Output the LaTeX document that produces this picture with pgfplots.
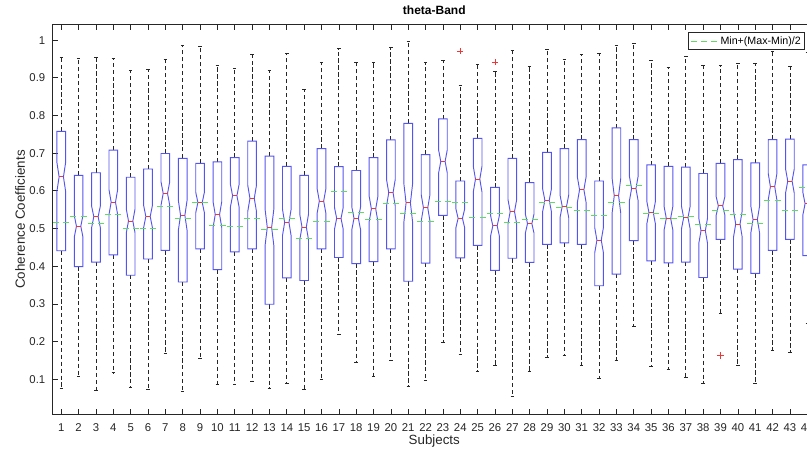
\documentclass[border=0pt]{standalone}
\usepackage{pgfplots}
\pgfplotsset{compat=1.18}
\usepackage{pgfplotstable}
\usepackage{fontspec}
\setmainfont{Liberation Sans}
\definecolor{boxblue}{rgb}{0.33,0.33,0.95}
\definecolor{medred}{rgb}{0.92,0.22,0.22}
\definecolor{midgreen}{rgb}{0.38,0.86,0.38}
\definecolor{axgray}{rgb}{0.15,0.15,0.15}

% x lw q1 med q3 uw mid  (mid = Min+(Max-Min)/2, incl. outliers)
\pgfplotstableread{
x  lw    q1    med   q3    uw    mid
1  0.075 0.441 0.637 0.758 0.953 0.515
2  0.108 0.399 0.506 0.641 0.951 0.531
3  0.070 0.411 0.531 0.648 0.955 0.514
4  0.117 0.430 0.570 0.708 0.952 0.536
5  0.078 0.376 0.520 0.636 0.919 0.499
6  0.074 0.419 0.532 0.658 0.922 0.499
7  0.168 0.442 0.593 0.699 0.949 0.559
8  0.068 0.358 0.535 0.686 0.986 0.526
9  0.155 0.446 0.569 0.673 0.982 0.569
10 0.086 0.391 0.537 0.677 0.934 0.509
11 0.086 0.438 0.587 0.688 0.925 0.505
12 0.093 0.446 0.580 0.732 0.963 0.526
13 0.075 0.299 0.503 0.692 0.919 0.497
14 0.088 0.369 0.516 0.665 0.966 0.527
15 0.073 0.362 0.504 0.641 0.870 0.473
16 0.100 0.446 0.573 0.712 0.941 0.519
17 0.218 0.423 0.527 0.664 0.977 0.597
18 0.145 0.407 0.527 0.654 0.940 0.542
19 0.107 0.412 0.552 0.688 0.942 0.524
20 0.149 0.446 0.595 0.735 0.981 0.566
21 0.082 0.360 0.568 0.779 0.996 0.540
22 0.096 0.408 0.555 0.696 0.942 0.519
23 0.199 0.535 0.678 0.791 0.947 0.573
24 0.166 0.422 0.527 0.626 0.880 0.569
25 0.121 0.455 0.631 0.739 0.935 0.528
26 0.136 0.389 0.507 0.609 0.916 0.539
27 0.055 0.421 0.545 0.686 0.973 0.515
28 0.121 0.410 0.513 0.622 0.929 0.525
29 0.159 0.458 0.575 0.702 0.976 0.568
30 0.164 0.462 0.559 0.712 0.949 0.556
31 0.136 0.458 0.603 0.736 0.963 0.549
32 0.101 0.348 0.469 0.626 0.965 0.534
33 0.149 0.379 0.587 0.767 0.987 0.568
34 0.239 0.468 0.606 0.736 0.991 0.615
35 0.133 0.414 0.542 0.669 0.947 0.541
36 0.126 0.409 0.527 0.665 0.927 0.527
37 0.104 0.411 0.529 0.663 0.958 0.531
38 0.088 0.370 0.494 0.646 0.934 0.511
39 0.276 0.471 0.560 0.673 0.932 0.547
40 0.136 0.392 0.512 0.683 0.938 0.537
41 0.088 0.381 0.524 0.674 0.937 0.512
42 0.177 0.442 0.611 0.736 0.971 0.574
43 0.170 0.471 0.626 0.737 0.929 0.549
44 0.248 0.428 0.566 0.669 0.968 0.608
}\boxdata

\pgfplotsset{
  boxline/.style={boxblue, line width=0.7pt, line join=miter},
  whisk/.style={black!85, line width=0.6pt, dash pattern=on 3.2pt off 2pt},
  capline/.style={black!85, line width=0.6pt},
  medline/.style={medred, line width=0.7pt},
  midline/.style={midgreen, line width=0.75pt, dash pattern=on 4.5pt off 3.2pt},
}

% #1 x, #2 lw, #3 q1, #4 med, #5 q3, #6 uw, #7 mid
\newcommand\nbox[7]{%
  \pgfmathsetmacro\bxL{#1-0.25}%
  \pgfmathsetmacro\bxR{#1+0.25}%
  \pgfmathsetmacro\bxIL{#1-0.125}%
  \pgfmathsetmacro\bxIR{#1+0.125}%
  \pgfmathsetmacro\bxNT{#4+0.12*(#5-#3)}%
  \pgfmathsetmacro\bxNB{#4-0.12*(#5-#3)}%
  \pgfmathsetmacro\bxCL{#1-0.1}%
  \pgfmathsetmacro\bxCR{#1+0.1}%
  \pgfmathsetmacro\bxGL{#1-0.47}%
  \pgfmathsetmacro\bxGR{#1+0.47}%
  \edef\bxtemp{%
    \noexpand\addplot[whisk,forget plot] coordinates {(#1,#5) (#1,#6)};
    \noexpand\addplot[whisk,forget plot] coordinates {(#1,#3) (#1,#2)};
    \noexpand\addplot[capline,forget plot] coordinates {(\bxCL,#6) (\bxCR,#6)};
    \noexpand\addplot[capline,forget plot] coordinates {(\bxCL,#2) (\bxCR,#2)};
    \noexpand\addplot[boxline,forget plot] coordinates {(\bxL,#3) (\bxR,#3) (\bxR,\bxNB) (\bxIR,#4) (\bxR,\bxNT) (\bxR,#5) (\bxL,#5) (\bxL,\bxNT) (\bxIL,#4) (\bxL,\bxNB) (\bxL,#3) (\bxR,#3)};
    \noexpand\addplot[medline,forget plot] coordinates {(\bxIL,#4) (\bxIR,#4)};
    \noexpand\addplot[midline,forget plot] coordinates {(\bxGL,#7) (\bxGR,#7)};
  }%
  \bxtemp
}

\begin{document}
\begin{tikzpicture}[trim right=565.8pt]
\path (-39.45pt,-29.0pt) rectangle (565.8pt,310.7pt);
\begin{axis}[
  at={(0pt,0pt)}, anchor=south west,
  scale only axis,
  width=572.5pt, height=292.2pt,
  xmin=0.5, xmax=44.5, ymin=0.007, ymax=1.041,
  xtick={1,...,44},
  ytick={0.1,0.2,0.3,0.4,0.5,0.6,0.7,0.8,0.9,1},
  yticklabels={0.1,0.2,0.3,0.4,0.5,0.6,0.7,0.8,0.9,1},
  xtick pos=both, ytick pos=both,
  tick align=inside,
  major tick length=3.75pt,
  tick style={axgray, line width=0.5pt},
  axis line style={axgray, line width=0.5pt},
  /pgf/number format/assume math mode=true,
  ticklabel style={font=\fontsize{8.5}{10}\selectfont, text=axgray},
  xticklabel style={anchor=center, yshift=-10.3pt},
  yticklabel style={anchor=east, xshift=-2pt},
  title={theta-Band},
  every axis title/.style={at={(axis description cs:0.5,1.0377)}, anchor=center, font=\bfseries\fontsize{9}{11}\selectfont},
  xlabel={Subjects},
  every axis x label/.style={at={(axis description cs:0.5,-0.0685)}, anchor=center, font=\fontsize{10}{12}\selectfont, text=axgray},
  ylabel={Coherence Coefficients},
  every axis y label/.style={at={(axis description cs:-0.0427,0.5)}, rotate=90, anchor=center, font=\fontsize{10}{12}\selectfont, text=axgray},
  legend image code/.code={\draw[#1] (0pt,0pt) -- (21pt,0pt);},
  legend style={at={(axis description cs:0.985,0.9805)}, anchor=north east, draw=axgray, line width=0.5pt,
    font=\fontsize{8}{9.6}\selectfont, inner xsep=1.5pt, inner ysep=1.8pt, nodes={inner sep=1pt}},
  legend cell align=left,
]
\pgfplotsforeachungrouped \bi in {0,...,43}{%
  \pgfplotstablegetelem{\bi}{x}\of\boxdata \edef\vx{\pgfplotsretval}%
  \pgfplotstablegetelem{\bi}{lw}\of\boxdata \edef\vlw{\pgfplotsretval}%
  \pgfplotstablegetelem{\bi}{q1}\of\boxdata \edef\vqa{\pgfplotsretval}%
  \pgfplotstablegetelem{\bi}{med}\of\boxdata \edef\vmed{\pgfplotsretval}%
  \pgfplotstablegetelem{\bi}{q3}\of\boxdata \edef\vqc{\pgfplotsretval}%
  \pgfplotstablegetelem{\bi}{uw}\of\boxdata \edef\vuw{\pgfplotsretval}%
  \pgfplotstablegetelem{\bi}{mid}\of\boxdata \edef\vmid{\pgfplotsretval}%
  \nbox{\vx}{\vlw}{\vqa}{\vmed}{\vqc}{\vuw}{\vmid}%
}
\addplot[only marks, mark=+, mark size=2.3pt, medred, line width=0.6pt, forget plot]
  coordinates {(24,0.971) (26,0.941) (39,0.163)};
\addlegendimage{color=midgreen, line width=0.75pt, dash pattern=on 4.5pt off 3.2pt}
\addlegendentry{Min+(Max-Min)/2}
\end{axis}
\end{tikzpicture}
\end{document}
